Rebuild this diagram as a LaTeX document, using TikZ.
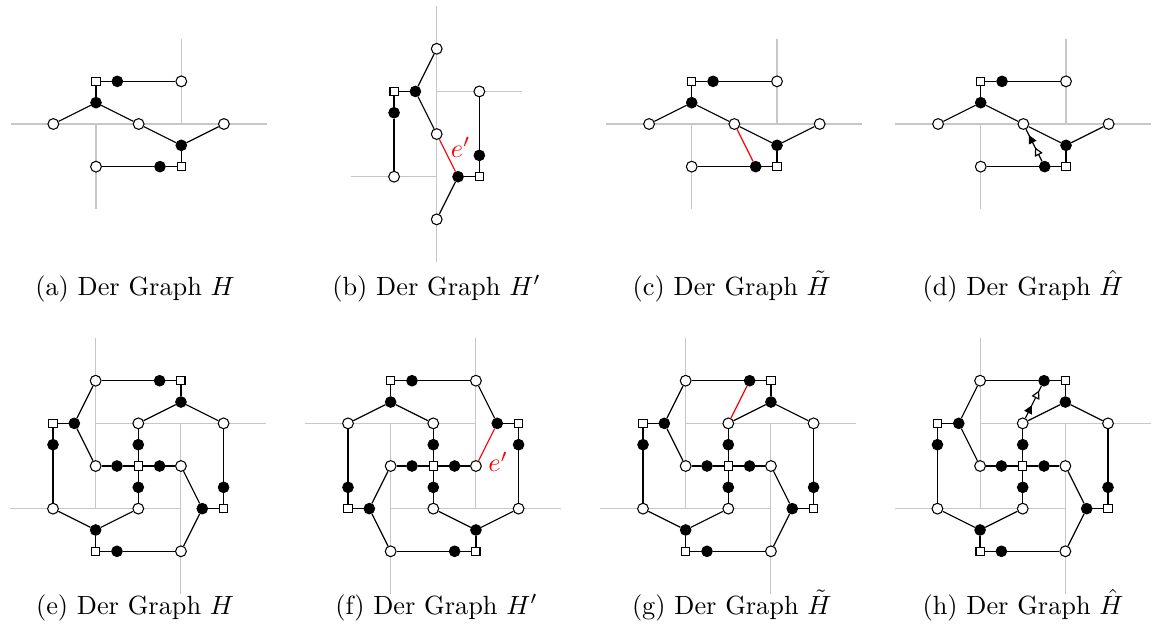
\documentclass[tikz,border=0pt]{standalone}
\usetikzlibrary{decorations.markings,arrows.meta}
\tikzset{
  wnode/.style={circle,draw,fill=white,inner sep=0pt,minimum size=4.1pt,line width=0.4pt},
  bnode/.style={circle,draw,fill=black,inner sep=0pt,minimum size=4pt,line width=0.4pt},
  snode/.style={rectangle,draw,fill=white,inner sep=0pt,minimum size=3.1pt,line width=0.4pt},
  gridline/.style={draw=black!22,line width=0.4pt},
  edge/.style={draw=black,line width=0.45pt},
  redge/.style={draw=red,line width=0.45pt},
  panel/.style={x=32.41pt,y=32.41pt},
  captext/.style={anchor=base,inner sep=0pt},
  elabel/.style={text=red,inner sep=0pt},
  markD/.style={edge,postaction={decorate},decoration={markings,
      mark=at position 0.44 with {\arrow{Triangle[fill=white,length=3.2pt,width=3.2pt]}},
      mark=at position 0.82 with {\arrow{Triangle[length=3.2pt,width=3.2pt]}}}},
  markH/.style={edge,postaction={decorate},decoration={markings,
      mark=at position 0.40 with {\arrow{Triangle[length=3.2pt,width=3.2pt]}},
      mark=at position 0.86 with {\arrow{Triangle[fill=white,length=3.2pt,width=3.2pt]}}}},
}
% small graph H (panels a, c, d)
\newcommand\smallG[1]{%
  \draw[gridline] (-1,0) -- (2,0);
  \draw[gridline] (0,0) -- (0,-1);
  \draw[gridline] (1,0) -- (1,1);
  \node[snode] (#1s1) at (0,0.5) {};
  \node[bnode] (#1b1) at (0.25,0.5) {};
  \node[wnode] (#1w1) at (1,0.5) {};
  \node[bnode] (#1b2) at (0,0.25) {};
  \node[wnode] (#1w2) at (-0.5,0) {};
  \node[wnode] (#1w3) at (0.5,0) {};
  \node[bnode] (#1b3) at (1,-0.25) {};
  \node[wnode] (#1w4) at (1.5,0) {};
  \node[snode] (#1s2) at (1,-0.5) {};
  \node[bnode] (#1b4) at (0.75,-0.5) {};
  \node[wnode] (#1w5) at (0,-0.5) {};
  \draw[edge] (#1s1) -- (#1b1) -- (#1w1);
  \draw[edge] (#1s1) -- (#1b2);
  \draw[edge] (#1b2) -- (#1w2);
  \draw[edge] (#1b2) -- (#1w3);
  \draw[edge] (#1w3) -- (#1b3);
  \draw[edge] (#1b3) -- (#1w4);
  \draw[edge] (#1b3) -- (#1s2);
  \draw[edge] (#1s2) -- (#1b4) -- (#1w5);
}
% big graph H (panels e, f, g, h); #2 = style of edge b3--w4
\newcommand\bigG[2]{%
  \draw[gridline] (-0.5,1.5) -- (-0.5,-0.5);
  \draw[gridline] (-0.5,0.5) -- (1.5,0.5);
  \draw[gridline] (0.5,0.5) -- (0.5,-1.5);
  \draw[gridline] (-1.5,-0.5) -- (0.5,-0.5);
  \node[wnode] (#1w1) at (-0.5,1) {};
  \node[bnode] (#1b1) at (0.25,1) {};
  \node[snode] (#1s1) at (0.5,1) {};
  \node[bnode] (#1b2) at (0.5,0.75) {};
  \node[wnode] (#1w2) at (0,0.5) {};
  \node[wnode] (#1w3) at (1,0.5) {};
  \node[snode] (#1s2) at (-1,0.5) {};
  \node[bnode] (#1b3) at (-0.75,0.5) {};
  \node[bnode] (#1b4) at (-1,0.25) {};
  \node[wnode] (#1w4) at (-0.5,0) {};
  \node[bnode] (#1b5) at (-0.25,0) {};
  \node[snode] (#1s0) at (0,0) {};
  \node[bnode] (#1b6) at (0.25,0) {};
  \node[wnode] (#1w5) at (0.5,0) {};
  \node[bnode] (#1b7) at (0,0.25) {};
  \node[bnode] (#1b8) at (0,-0.25) {};
  \node[wnode] (#1w6) at (-1,-0.5) {};
  \node[wnode] (#1w7) at (0,-0.5) {};
  \node[bnode] (#1b9) at (-0.5,-0.75) {};
  \node[snode] (#1s3) at (-0.5,-1) {};
  \node[bnode] (#1b10) at (-0.25,-1) {};
  \node[wnode] (#1w8) at (0.5,-1) {};
  \node[bnode] (#1b11) at (1,-0.25) {};
  \node[bnode] (#1b12) at (0.75,-0.5) {};
  \node[snode] (#1s4) at (1,-0.5) {};
  \draw[edge] (#1w1) -- (#1b1) -- (#1s1);
  \draw[edge] (#1s1) -- (#1b2);
  \draw[edge] (#1b2) -- (#1w2);
  \draw[edge] (#1b2) -- (#1w3);
  \draw[edge] (#1w3) -- (#1b11) -- (#1s4);
  \draw[edge] (#1s4) -- (#1b12);
  \draw[edge] (#1b12) -- (#1w5);
  \draw[edge] (#1b12) -- (#1w8);
  \draw[edge] (#1w8) -- (#1b10) -- (#1s3);
  \draw[edge] (#1s3) -- (#1b9);
  \draw[edge] (#1b9) -- (#1w6);
  \draw[edge] (#1b9) -- (#1w7);
  \draw[edge] (#1w6) -- (#1b4) -- (#1s2);
  \draw[edge] (#1s2) -- (#1b3);
  \draw[edge] (#1b3) -- (#1w1);
  \draw[#2] (#1b3) -- (#1w4);
  \draw[edge] (#1w4) -- (#1b5) -- (#1s0) -- (#1b6) -- (#1w5);
  \draw[edge] (#1w2) -- (#1b7) -- (#1s0) -- (#1b8) -- (#1w7);
}
\begin{document}
\begin{tikzpicture}
\useasboundingbox (0,0) rectangle (437.76pt,-243.58pt);

% (a)
\begin{scope}[panel,shift={(36.48pt,-47.12pt)}]
  \smallG{a}
\end{scope}

% (b)
\begin{scope}[panel,shift={(165.95pt,-67.15pt)}]
  \draw[gridline] (0,-1) -- (0,2);
  \draw[gridline] (0,1) -- (1,1);
  \draw[gridline] (-1,0) -- (0,0);
  \node[wnode] (bw1) at (0,1.5) {};
  \node[bnode] (bb1) at (-0.25,1) {};
  \node[snode] (bs1) at (-0.5,1) {};
  \node[bnode] (bb2) at (-0.5,0.75) {};
  \node[wnode] (bw2) at (-0.5,0) {};
  \node[wnode] (bw3) at (0,0.5) {};
  \node[bnode] (bb3) at (0.25,0) {};
  \node[snode] (bs2) at (0.5,0) {};
  \node[bnode] (bb4) at (0.5,0.25) {};
  \node[wnode] (bw4) at (0.5,1) {};
  \node[wnode] (bw5) at (0,-0.5) {};
  \draw[edge] (bw1) -- (bb1);
  \draw[edge] (bb1) -- (bs1);
  \draw[edge] (bs1) -- (bb2) -- (bw2);
  \draw[edge] (bb1) -- (bw3);
  \draw[redge] (bw3) -- (bb3);
  \draw[edge] (bb3) -- (bs2);
  \draw[edge] (bs2) -- (bb4) -- (bw4);
  \draw[edge] (bb3) -- (bw5);
  \node[elabel] (blab) at (0.28,0.345) {$e'$};
\end{scope}

% (c)
\begin{scope}[panel,shift={(262.85pt,-47.12pt)}]
  \smallG{c}
  \draw[redge] (cw3) -- (cb4);
\end{scope}

% (d)
\begin{scope}[panel,shift={(372.67pt,-47.12pt)}]
  \smallG{d}
  \draw[markD] (db4) -- (dw3);
\end{scope}

% (e)
\begin{scope}[panel,shift={(52.55pt,-177.08pt)}]
  \bigG{e}{edge}
\end{scope}

% (f)
\begin{scope}[panel,shift={(164.65pt,-177.08pt)},xscale=-1]
  \bigG{f}{redge}
\end{scope}
\begin{scope}[panel,shift={(164.65pt,-177.08pt)}]
  \node[elabel] (flab) at (0.76,0.05) {$e'$};
\end{scope}

% (g)
\begin{scope}[panel,shift={(276.75pt,-177.08pt)}]
  \bigG{g}{edge}
  \draw[redge] (gb1) -- (gw2);
\end{scope}

% (h)
\begin{scope}[panel,shift={(388.63pt,-177.08pt)}]
  \bigG{h}{edge}
  \draw[markH] (hw2) -- (hb1);
\end{scope}

% captions
\node[captext] (capa) at (51.3pt,-112.1pt) {(a) Der Graph $H$};
\node[captext] (capb) at (165.87pt,-112.1pt) {(b) Der Graph $H'$};
\node[captext] (capc) at (278.05pt,-112.1pt) {(c) Der Graph $\tilde{H}$};
\node[captext] (capd) at (388.74pt,-112.1pt) {(d) Der Graph $\hat{H}$};
\node[captext] (cape) at (51.3pt,-233.32pt) {(e) Der Graph $H$};
\node[captext] (capf) at (165.87pt,-233.32pt) {(f) Der Graph $H'$};
\node[captext] (capg) at (278.05pt,-233.32pt) {(g) Der Graph $\tilde{H}$};
\node[captext] (caph) at (388.74pt,-233.32pt) {(h) Der Graph $\hat{H}$};
\end{tikzpicture}
\end{document}
